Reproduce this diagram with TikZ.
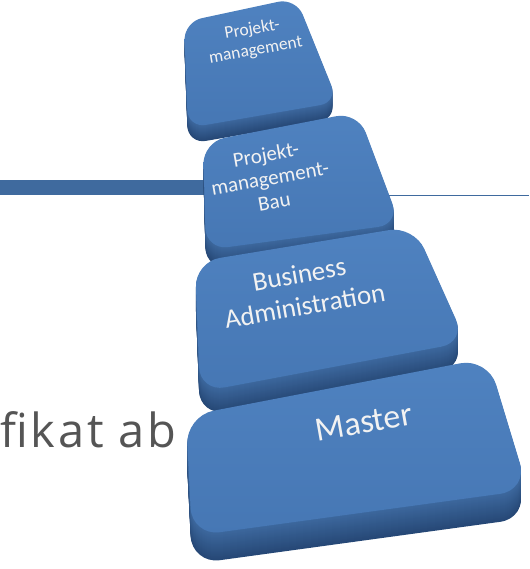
\documentclass[tikz,border=0pt]{standalone}
\usepackage{fontspec}
\setmainfont{Carlito}
\newfontfamily\slidefont[LetterSpace=6]{Open Sans}
\usepackage{xcolor}
\usepackage{tikz}
\usetikzlibrary{calc}

\definecolor{keytop}{HTML}{4677B4}
\definecolor{keytoplight}{HTML}{4F82C0}
\definecolor{keyside}{HTML}{3D689E}
\definecolor{keydark}{HTML}{264876}
\definecolor{barblue}{HTML}{3F6A9E}
\definecolor{slidegray}{HTML}{555555}

\tikzset{
  keyface/.style={rounded corners=#1, top color=keytoplight, bottom color=keytop},
  keylabel/.style={text=white!95!black, align=center, rotate=10, inner sep=0pt}
}

\begin{document}
\begin{tikzpicture}[x=1pt,y=-1pt]
\useasboundingbox (0,0) rectangle (529,569);
\clip (0,0) rectangle (529,569);

% title rule behind the keys
\fill[barblue] (0,180) rectangle (250,195);
\draw[barblue, line width=1.6pt] (380,195.5) -- (529,195.5);

\node[anchor=base west, text=slidegray, inner sep=0pt,
      font=\slidefont\fontsize{47}{50}\selectfont] (zert) at (0,447) {fikat ab};

% key 1
\coordinate (Atl) at (184,22);
\coordinate (Atr) at (296,-2);
\coordinate (Abr) at (338,102);
\coordinate (Abl) at (188,128);
\def\Ad{16}
\foreach \k in {\Ad,...,1}{
  \pgfmathtruncatemacro\mix{100*\k/\Ad}
  \fill[keydark!\mix!keyside, rounded corners=18] ($(Atl)+(0,\k)$) -- ($(Atr)+(0,\k)$) -- ($(Abr)+(0,\k)$) -- ($(Abl)+(0,\k)$) -- cycle;
}
\shade[keyface=18] (Atl) -- (Atr) -- (Abr) -- (Abl) -- cycle;
\node[keylabel, font=\fontsize{17.5}{21}\selectfont] (pm) at (254,40) {Projekt-\\management};

% key 2
\coordinate (Btl) at (203,142);
\coordinate (Btr) at (358,112);
\coordinate (Bbr) at (400,224);
\coordinate (Bbl) at (206,250);
\def\Bd{20}
\foreach \k in {\Bd,...,1}{
  \pgfmathtruncatemacro\mix{100*\k/\Bd}
  \fill[keydark!\mix!keyside, rounded corners=22] ($(Btl)+(0,\k)$) -- ($(Btr)+(0,\k)$) -- ($(Bbr)+(0,\k)$) -- ($(Bbl)+(0,\k)$) -- cycle;
}
\shade[keyface=22] (Btl) -- (Btr) -- (Bbr) -- (Bbl) -- cycle;
\node[keylabel, font=\fontsize{21}{24}\selectfont] (pmbau) at (270,178) {Projekt-\\management-\\Bau};

% key 3
\coordinate (Ctl) at (195,262);
\coordinate (Ctr) at (414,226);
\coordinate (Cbr) at (466,342);
\coordinate (Cbl) at (200,392);
\def\Cd{24}
\foreach \k in {\Cd,...,1}{
  \pgfmathtruncatemacro\mix{100*\k/\Cd}
  \fill[keydark!\mix!keyside, rounded corners=25] ($(Ctl)+(0,\k)$) -- ($(Ctr)+(0,\k)$) -- ($(Cbr)+(0,\k)$) -- ($(Cbl)+(0,\k)$) -- cycle;
}
\shade[keyface=25] (Ctl) -- (Ctr) -- (Cbr) -- (Cbl) -- cycle;
\node[keylabel, font=\fontsize{27}{32}\selectfont] (ba) at (302,290) {Business\\Administration};

% key 4
\coordinate (Dtl) at (186,416);
\coordinate (Dtr) at (488,358);
\coordinate (Dbr) at (528,490);
\coordinate (Dbl) at (192,536);
\def\Dd{28}
\foreach \k in {\Dd,...,1}{
  \pgfmathtruncatemacro\mix{100*\k/\Dd}
  \fill[keydark!\mix!keyside, rounded corners=28] ($(Dtl)+(0,\k)$) -- ($(Dtr)+(0,\k)$) -- ($(Dbr)+(0,\k)$) -- ($(Dbl)+(0,\k)$) -- cycle;
}
\shade[keyface=28] (Dtl) -- (Dtr) -- (Dbr) -- (Dbl) -- cycle;
\node[keylabel, font=\fontsize{34}{36}\selectfont] (master) at (364,422) {Master};

\end{tikzpicture}
\end{document}
